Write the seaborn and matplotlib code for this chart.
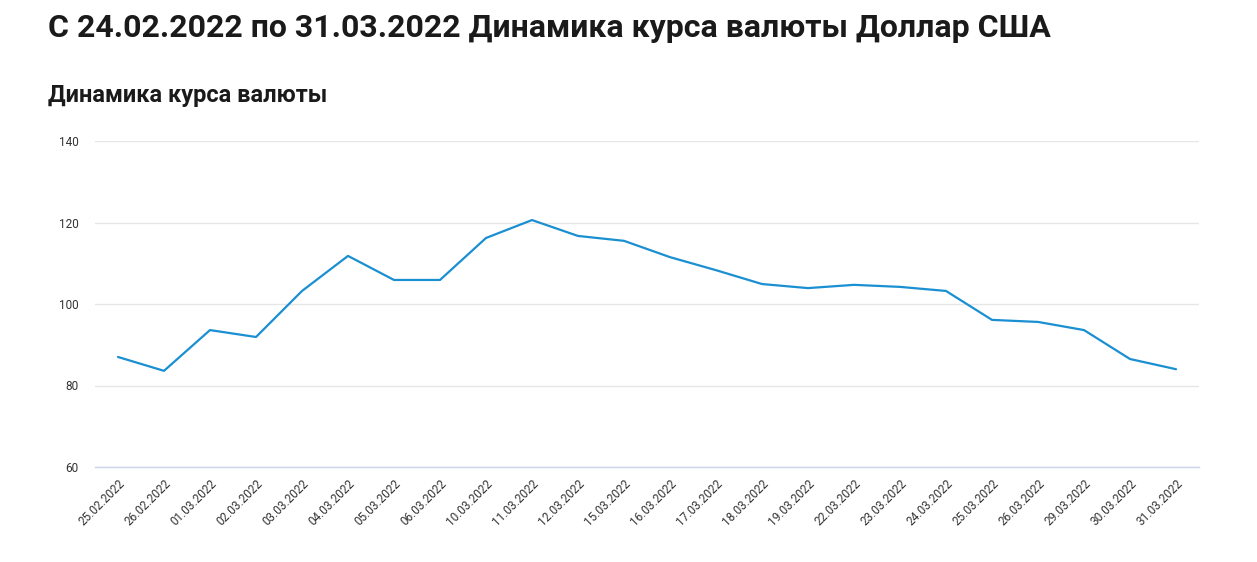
import matplotlib
matplotlib.use("Agg")
import matplotlib.pyplot as plt
import seaborn as sns
import pandas as pd

dates = ["25.02.2022", "26.02.2022", "01.03.2022", "02.03.2022", "03.03.2022", "04.03.2022",
         "05.03.2022", "06.03.2022", "10.03.2022", "11.03.2022", "12.03.2022", "15.03.2022",
         "16.03.2022", "17.03.2022", "18.03.2022", "19.03.2022", "22.03.2022", "23.03.2022",
         "24.03.2022", "25.03.2022", "26.03.2022", "29.03.2022", "30.03.2022", "31.03.2022"]
rates = [87.0, 83.6, 93.6, 91.9, 103.2, 111.8, 105.9, 105.9, 116.2, 120.6, 116.7, 115.5,
         111.5, 108.3, 104.9, 103.9, 104.7, 104.2, 103.2, 96.1, 95.6, 93.6, 86.5, 84.0]
y_ticks = [60, 80, 100, 120, 140]

title = "С 24.02.2022 по 31.03.2022 Динамика курса валюты Доллар США"
subtitle = "Динамика курса валюты"

sns.set_theme(style="white")
plt.rcParams["font.family"] = ["Roboto", "DejaVu Sans"]

df = pd.DataFrame({"date": dates, "rate": rates, "idx": range(len(dates))})

fig = plt.figure(figsize=(12.57, 5.62), dpi=100)
ax = fig.add_axes([95 / 1257, 1 - 467 / 562, (1199 - 95) / 1257, (467 - 141) / 562])

sns.lineplot(data=df, x="idx", y="rate", ax=ax, color="#1a8fd1", linewidth=1.6)

ax.set_xlim(-0.5, len(dates) - 0.5)
ax.set_ylim(60, 140)
ax.set_yticks(y_ticks)
ax.set_yticklabels([str(t) for t in y_ticks], fontsize=8.5, color="#333333")
ax.set_xticks(range(len(dates)))
ax.set_xticklabels(dates, rotation=45, ha="right", rotation_mode="anchor",
                   fontsize=8.5, color="#333333")
ax.tick_params(axis="y", length=0, pad=12)
ax.tick_params(axis="x", length=0, pad=7)
ax.grid(axis="y", color="#e6e6e6", linewidth=1)
ax.grid(axis="x", visible=False)
for s in ["top", "right", "left"]:
    ax.spines[s].set_visible(False)
ax.spines["bottom"].set_color("#ccd6eb")
ax.spines["bottom"].set_linewidth(1)
ax.set_xlabel("")
ax.set_ylabel("")

fig.text(48 / 1257, 1 - 28 / 562, title, fontsize=23, fontweight="bold",
         color="#1a1a1a", va="center", ha="left")
fig.text(48 / 1257, 1 - 95 / 562, subtitle, fontsize=17, fontweight="bold",
         color="#1a1a1a", va="center", ha="left")

fig.savefig("out.png", dpi=100, facecolor="white")
